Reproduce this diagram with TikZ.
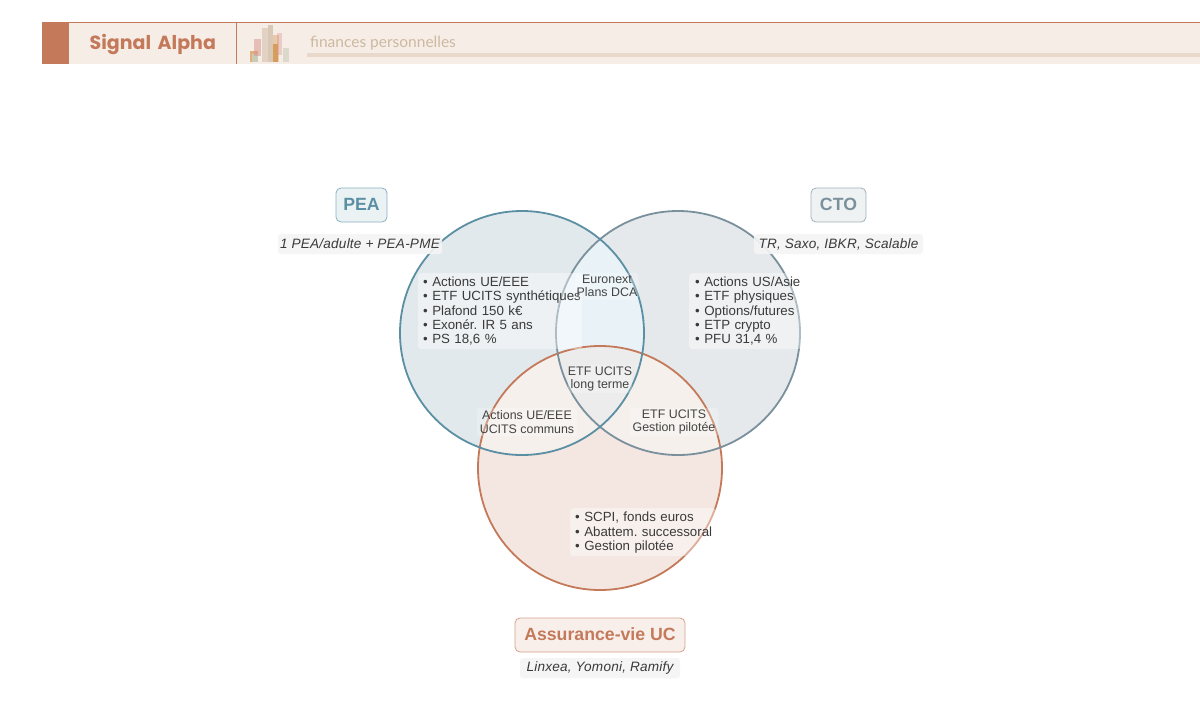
\documentclass[tikz,border=0pt]{standalone}
\usepackage{fontspec}
\setmainfont{Liberation Sans}
\newfontfamily\titlefont{Poppins}
\newfontfamily\subfont{Lato}
\newcommand{\itemline}[2]{\hspace*{#1pt}\raisebox{-3.9pt}[0pt][0pt]{\mbox{• #2}}}
\definecolor{peaC}{HTML}{5B8FA3}
\definecolor{ctoC}{HTML}{7A909C}
\definecolor{avC}{HTML}{C47A5A}
\definecolor{inkC}{HTML}{3A3A3A}
\definecolor{headC}{HTML}{F6EDE7}
\definecolor{HeadSub}{HTML}{CDB9A0}
\definecolor{HeadStrip}{HTML}{E8D9CB}
\definecolor{RegP}{HTML}{E1E9EC}
\definecolor{RegC}{HTML}{E5E9EC}
\definecolor{RegA}{HTML}{F4E7E2}
\definecolor{RegPC}{HTML}{E9F2F7}
\definecolor{RegPA}{HTML}{F5F0EC}
\definecolor{RegT}{HTML}{ECECEC}
\definecolor{barO}{HTML}{D08A3C}
\definecolor{barP}{HTML}{D98F8A}
\definecolor{barG}{HTML}{C9CDBB}
\tikzset{
  ring/.style={circle,draw=#1,line width=1.8pt,minimum size=244pt,inner sep=0pt},
  tag/.style={rounded corners=5pt,line width=.8pt,font=\fontsize{17.7}{20}\selectfont\bfseries,inner sep=0pt,minimum height=34pt},
  subl/.style={rounded corners=3pt,fill=black!4,fill opacity=.9,text opacity=1,text=inkC,font=\addfontfeatures{LetterSpace=1.5}\fontsize{13.6}{16}\selectfont\itshape,inner sep=0pt,minimum height=20pt},
  lst/.style={rounded corners=3pt,fill=white,fill opacity=.4,text opacity=1,text=inkC,align=left,anchor=north west,inner sep=0pt,font=\frenchspacing\fontsize{13.3}{14.25}\selectfont},
  mid/.style={rounded corners=3pt,fill=white,fill opacity=.25,text opacity=.95,text=inkC,align=center,inner sep=0pt,font=\fontsize{12.4}{13.2}\selectfont},
}
\begin{document}
\begin{tikzpicture}[x=1pt,y=-1pt]
\useasboundingbox[fill=white] (0,0) rectangle (1200,721);
% header
\fill[headC] (42,22) rectangle (1200,64);
\draw[avC,line width=.8pt] (42,22) -- (1200,22);
\fill[avC] (42,22) rectangle (69,64);
\draw[avC,line width=.8pt] (236,22) -- (236,64);
\node[anchor=west,inner sep=0pt,text=avC,font=\titlefont\fontsize{19}{22}\selectfont\bfseries] (brand) at (89.5,44.5) {Signal\hspace{2.5pt} Alpha};
\node[anchor=west,inner sep=0pt,font=\subfont\fontsize{15.5}{18}\selectfont,text=HeadSub] (tagline) at (310,43.5) {finances personnelles};
\fill[HeadStrip] (307,53) rectangle (1200,57);
% chart
\fill[barO,opacity=.6] (250,51) rectangle (258,61.5);
\fill[barG,opacity=.9] (252,54) rectangle (258,61.5);
\fill[barP,opacity=.5] (254,38.7) rectangle (261,56);
\fill[HeadSub,opacity=.5] (262,28) rectangle (268,61.5);
\fill[HeadSub,opacity=.7] (268,25) rectangle (273,61.5);
\fill[barO,opacity=.35] (273,35) rectangle (279,61.5);
\fill[barO,opacity=.7] (273,44) rectangle (278,61.5);
\fill[barP,opacity=.35] (277,33) rectangle (282,55);
\fill[barG,opacity=.6] (283,48) rectangle (289,61.5);
% venn regions
\fill[RegP] (522,333) circle (122);
\fill[RegC] (678,333) circle (122);
\fill[RegA] (600,468) circle (122);
\begin{scope}\clip (522,333) circle (122); \fill[RegPC] (678,333) circle (122); \end{scope}
\begin{scope}\clip (522,333) circle (122); \fill[RegPA] (600,468) circle (122); \end{scope}
\begin{scope}\clip (678,333) circle (122); \fill[RegPA] (600,468) circle (122); \end{scope}
\begin{scope}\clip (522,333) circle (122); \clip (678,333) circle (122); \fill[RegT] (600,468) circle (122); \end{scope}
\node[ring=avC] (ringA) at (600,468) {};
\node[ring=ctoC] (ringC) at (678,333) {};
\node[ring=peaC] (ringP) at (522,333) {};
% tags
\node[tag,draw=peaC!70,fill=peaC!12,text=peaC,minimum width=51pt] (tagP) at (361.5,205) {\raisebox{1.3pt}{PEA}};
\node[tag,draw=ctoC!70,fill=ctoC!12,text=ctoC,minimum width=55pt] (tagC) at (838.5,205) {\raisebox{1.3pt}{CTO}};
\node[tag,draw=avC!70,fill=avC!12,text=avC,minimum width=170pt] (tagA) at (600,635) {\raisebox{1pt}{Assurance-vie UC}};
\node[subl,minimum width=164pt] (subP) at (360,244) {1 PEA/adulte + PEA-PME};
\node[subl,minimum width=169pt] (subC) at (838.5,244) {TR, Saxo, IBKR, Scalable};
\node[subl,minimum width=160pt] (subA) at (600,668) {Linxea, Yomoni, Ramify};
% lists
\node[lst,minimum height=76pt,text width=164pt] (lstP) at (418,273) {\itemline{5}{Actions UE/EEE}\\\itemline{5}{ETF UCITS synthétiques}\\\itemline{5}{Plafond 150 k€}\\\itemline{5}{Exonér. IR 5 ans}\\\itemline{5}{PS 18,6 \%}};
\node[lst,minimum height=76pt,text width=112pt] (lstC) at (689,273) {\itemline{6}{Actions US/Asie}\\\itemline{6}{ETF physiques}\\\itemline{6}{Options/futures}\\\itemline{6}{ETP crypto}\\\itemline{6}{PFU 31,4 \%}};
\node[lst,minimum height=48pt,text width=146pt] (lstA) at (570,508) {\itemline{5}{SCPI, fonds euros}\\\itemline{5}{Abattem. successoral}\\\itemline{5}{Gestion pilotée}};
% intersections
\node[mid,minimum width=63pt,minimum height=27pt] (mPC) at (607,286) {Euronext\\Plans DCA};
\node[mid,minimum width=64pt,minimum height=28pt] (mT) at (600,379) {ETF UCITS\\long terme};
\node[mid,minimum width=100pt,minimum height=28pt] (mPA) at (527,422) {Actions UE/EEE\\UCITS communs};
\node[mid,minimum width=89pt,minimum height=28pt] (mCA) at (674,422) {ETF UCITS\\Gestion pilotée};
\end{tikzpicture}
\end{document}
